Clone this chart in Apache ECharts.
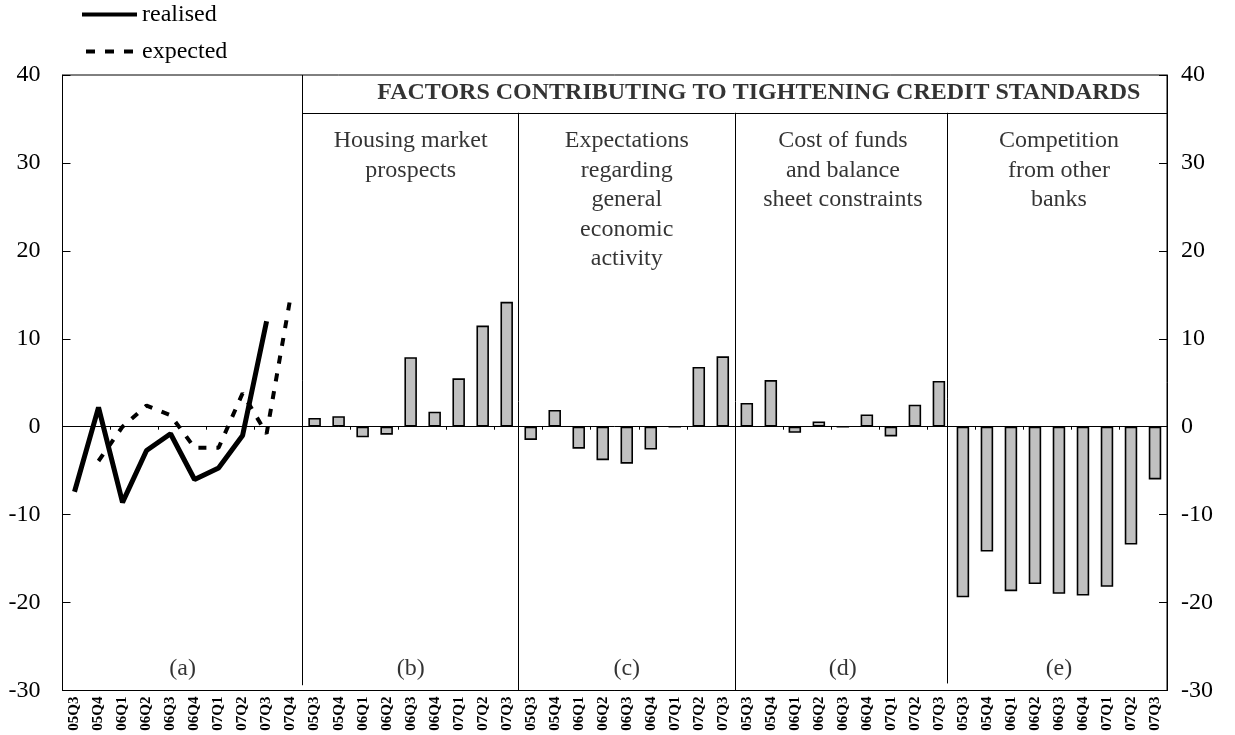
<!DOCTYPE html>
<html>
<head>
<meta charset="utf-8">
<script src="https://cdn.jsdelivr.net/npm/echarts@6/dist/echarts.min.js"></script>
<style>
  html, body { margin: 0; padding: 0; background: #fff; }
  #chart { width: 1235px; height: 735px; }
</style>
</head>
<body>
<div id="chart"></div>
<script>
// quarters: panel (a) has 10, the factor panels 9 each
const quartersA = ['05Q3', '05Q4', '06Q1', '06Q2', '06Q3', '06Q4', '07Q1', '07Q2', '07Q3', '07Q4']
const quartersB = ['05Q3', '05Q4', '06Q1', '06Q2', '06Q3', '06Q4', '07Q1', '07Q2', '07Q3']

// (a) credit standards, realised vs expected
const realised = [-7.4, 2.2, -8.6, -2.7, -0.8, -6.0, -4.7, -1.0, 12.0, null]
const expected = [null, -3.9, 0.0, 2.4, 1.3, -2.4, -2.4, 3.8, -0.8, 14.8]

// (b)-(e) factors
const housing = [1.0, 1.2, -1.2, -0.9, 7.9, 1.7, 5.5, 11.5, 14.2]
const economy = [-1.5, 1.9, -2.5, -3.8, -4.2, -2.6, 0.0, 6.8, 8.0]
const funding = [2.7, 5.3, -0.7, 0.6, 0.0, 1.4, -1.1, 2.5, 5.2]
const competition = [-19.4, -14.2, -18.7, -17.9, -19.0, -19.2, -18.2, -13.4, -6.0]

const headerText = 'FACTORS CONTRIBUTING TO TIGHTENING CREDIT STANDARDS'
const panelTitles = [
  'Housing market\nprospects',
  'Expectations\nregarding\ngeneral\neconomic\nactivity',
  'Cost of funds\nand balance\nsheet constraints',
  'Competition\nfrom other\nbanks',
]
const panelLetters = ['(a)', '(b)', '(c)', '(d)', '(e)']

// build the long category axis and padded series
const categories = quartersA.concat(quartersB, quartersB, quartersB, quartersB)
const pad = (n) => new Array(n).fill(null)
const realisedFull = realised.concat(pad(36))
const expectedFull = expected.concat(pad(36))
const barsFull = pad(10).concat(housing, economy, funding, competition)

// panel boundaries in category units
const bounds = [0, 10, 19, 28, 37, 46]
const mids = bounds.slice(0, -1).map((b, i) => (b + bounds[i + 1]) / 2)

const serif = 'Liberation Serif'
const ink = '#000'

const chart = echarts.init(document.getElementById('chart'))

const yAxisBase = {
  type: 'value',
  min: -30,
  max: 40,
  interval: 10,
  axisLine: { show: true, lineStyle: { color: ink, width: 1 } },
  axisTick: { show: true, inside: true, length: 8, lineStyle: { color: ink } },
  splitLine: { show: false },
}

const helperLabels = [
  {
    value: [29.0, 37.95],
    label: { position: 'inside', fontWeight: 'bold', fontSize: 24, formatter: headerText },
  },
]
panelTitles.forEach((t, i) => {
  helperLabels.push({
    value: [mids[i + 1], 34.2],
    label: { position: 'bottom', distance: 0, formatter: t, lineHeight: 29.5 },
  })
})
panelLetters.forEach((t, i) => {
  helperLabels.push({
    value: [mids[i], -27.5],
    label: { position: 'inside', formatter: t },
  })
})

const headerY = 35.7
const sepLines = [
  [{ coord: [bounds[1], 40] }, { coord: [bounds[1], -29.4] }],
  [{ coord: [bounds[1], headerY] }, { coord: [bounds[5], headerY] }],
  [{ coord: [bounds[2], headerY] }, { coord: [bounds[2], -30] }],
  [{ coord: [bounds[3], headerY] }, { coord: [bounds[3], -30] }],
  [{ coord: [bounds[4] - 0.15, headerY] }, { coord: [bounds[4] - 0.15, -29.2] }],
]

chart.setOption({
  animation: false,
  backgroundColor: '#fff',
  textStyle: { fontFamily: serif, color: ink },
  legend: {
    data: [
      { name: 'realised', icon: 'rect' },
      { name: 'expected', icon: 'path://M0,0h9v4h-9z M19,0h9v4h-9z M38,0h9v4h-9z' },
    ],
    orient: 'vertical',
    left: 77,
    top: -3,
    itemWidth: 55,
    itemHeight: 4,
    itemGap: 12,
    textStyle: { fontFamily: serif, fontSize: 24, color: ink, lineHeight: 25 },
  },
  grid: {
    left: 62.5,
    right: 68,
    top: 75,
    bottom: 44.5,
    show: true,
    borderColor: ink,
    borderWidth: 1,
  },
  xAxis: [
    {
      type: 'category',
      data: categories,
      position: 'bottom',
      axisLine: { show: true, onZero: false, lineStyle: { color: ink } },
      axisTick: { show: false },
      axisLabel: {
        interval: 0,
        rotate: 90,
        margin: 6,
        fontFamily: serif,
        fontWeight: 'bold',
        fontSize: 15,
        color: ink,
      },
    },
    {
      type: 'category',
      data: categories,
      position: 'bottom',
      axisLine: { show: true, onZero: true, lineStyle: { color: ink } },
      axisTick: { show: true, inside: false, length: 3, lineStyle: { color: ink } },
      axisLabel: { show: false },
    },
    {
      type: 'value',
      min: 0,
      max: 46,
      show: false,
    },
  ],
  yAxis: [
    Object.assign({}, yAxisBase, {
      position: 'left',
      axisLabel: { margin: 22, fontFamily: serif, fontSize: 24, color: ink },
    }),
    Object.assign({}, yAxisBase, {
      position: 'right',
      axisLabel: { margin: 14, fontFamily: serif, fontSize: 24, color: ink },
    }),
  ],
  series: [
    {
      name: 'factors',
      type: 'bar',
      xAxisIndex: 0,
      yAxisIndex: 0,
      data: barsFull,
      barWidth: 12.5,
      itemStyle: { color: '#c0c0c0', borderColor: ink, borderWidth: 1.6 },
    },
    {
      name: 'realised',
      type: 'line',
      xAxisIndex: 0,
      yAxisIndex: 0,
      data: realisedFull,
      symbol: 'none',
      lineStyle: { color: ink, width: 5 },
      itemStyle: { color: ink },
    },
    {
      name: 'expected',
      type: 'line',
      xAxisIndex: 0,
      yAxisIndex: 0,
      data: expectedFull,
      symbol: 'none',
      lineStyle: { color: ink, width: 4, type: [8, 10] },
      itemStyle: { color: ink },
    },
    {
      name: 'panels',
      type: 'scatter',
      xAxisIndex: 2,
      yAxisIndex: 0,
      symbolSize: 0,
      silent: true,
      label: {
        show: true,
        color: ink,
        fontFamily: serif,
        fontSize: 24,
        align: 'center',
      },
      data: helperLabels,
      markLine: {
        silent: true,
        symbol: 'none',
        label: { show: false },
        lineStyle: { color: ink, width: 1, type: 'solid' },
        data: sepLines,
      },
    },
  ],
})
</script>
</body>
</html>
